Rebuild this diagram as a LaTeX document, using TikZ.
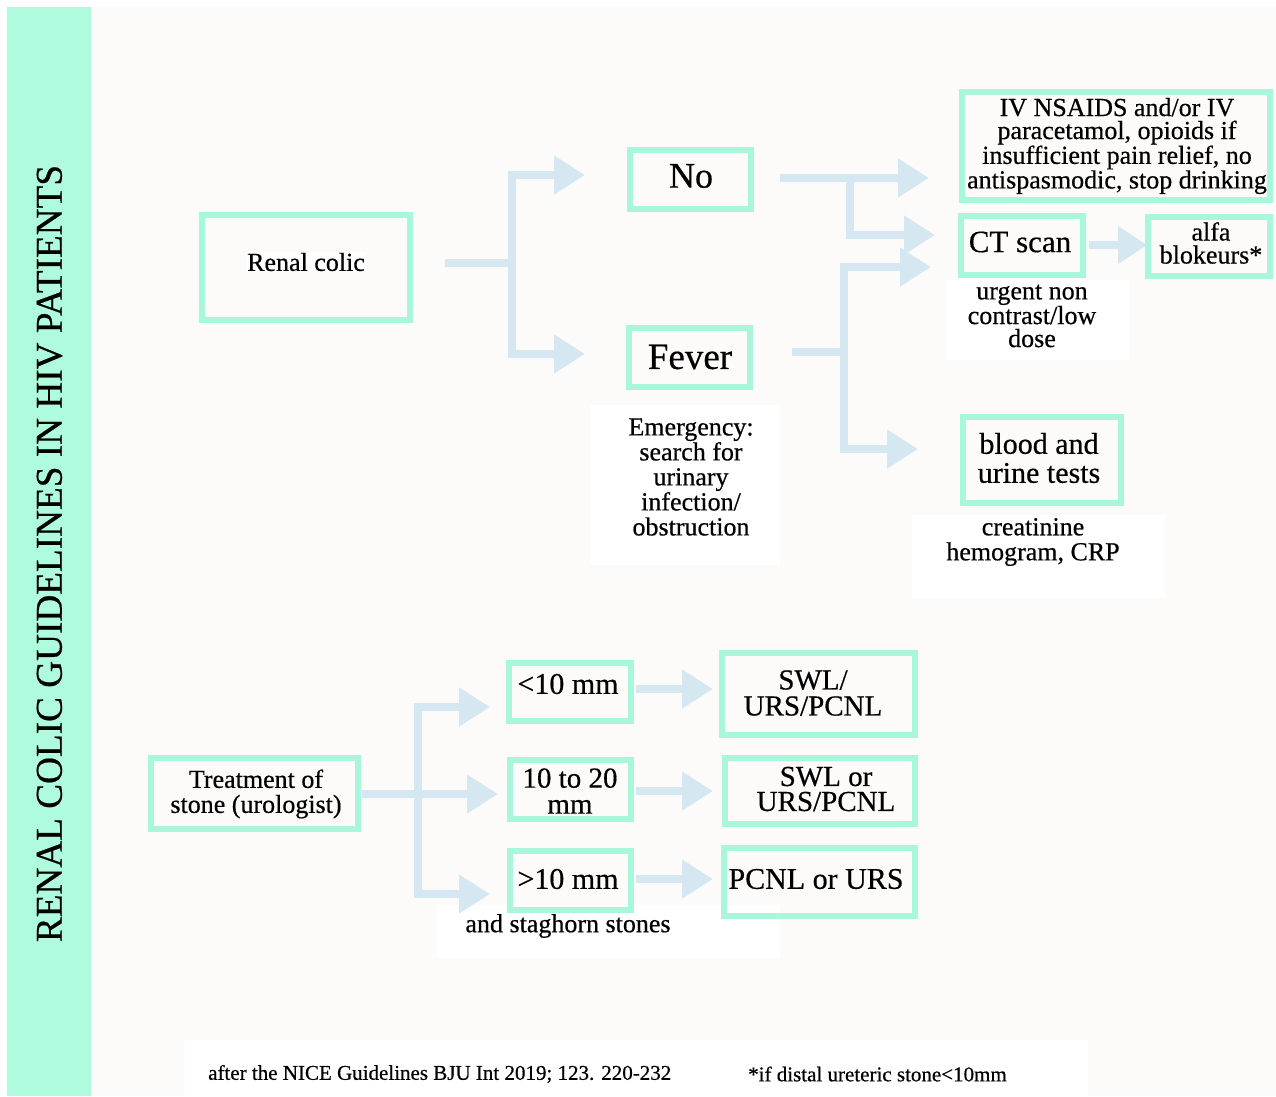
\documentclass[tikz,border=0pt]{standalone}
\usepackage{fontspec}
\usepackage{graphicx}
\setmainfont[FakeBold=0.5]{Liberation Serif}
\usetikzlibrary{arrows.meta,calc}
\definecolor{mint}{HTML}{A8F7DA}
\definecolor{barmint}{HTML}{AEFCDD}
\definecolor{arr}{HTML}{D5E8F1}
\definecolor{bgc}{HTML}{FCFBF9}
\tikzset{
  box/.style={draw=mint, line width=6pt, inner sep=0pt},
  lbl/.style={align=center, inner sep=1pt, font=\fontsize{26}{23}\selectfont},
  flow/.style={draw=arr, line width=8pt},
  flowhead/.style={draw=arr, line width=8pt, -{Triangle[length=31pt,width=37pt]}},
  whitebg/.style={fill=white, draw=none},
}
\begin{document}
\begin{tikzpicture}[x=1pt,y=-1pt]
\useasboundingbox (0,0) rectangle (1276,1096);
\fill[white] (0,0) rectangle (1276,1096);
\fill[bgc] (7,7) rectangle (1276,1096);
\fill[barmint] (7,7) rectangle (91,1096);
\node[rotate=90, inner sep=0pt] (title) at (49.5,553.5) {\resizebox{777pt}{25pt}{RENAL COLIC GUIDELINES IN HIV PATIENTS}};

% white text backgrounds
\fill[whitebg] (590,405) rectangle (780,565);
\fill[whitebg] (946,280) rectangle (1130,360);
\fill[whitebg] (912,515) rectangle (1165,598);
\fill[whitebg] (437,905) rectangle (780,958);
\fill[whitebg] (185,1040) rectangle (1088,1096);

% boxes
\node[box, minimum width=208pt, minimum height=105pt] (renal) at (305.5,267) {};
\node[box, minimum width=121pt, minimum height=59pt] (no) at (690,179) {};
\node[box, minimum width=121pt, minimum height=59pt] (fever) at (689,357) {};
\node[box, minimum width=308pt, minimum height=108pt] (ivn) at (1115.5,145.5) {};
\node[box, minimum width=122pt, minimum height=59pt] (ct) at (1021.5,245) {};
\node[box, minimum width=122pt, minimum height=59pt] (alfa) at (1208.5,246) {};
\node[box, minimum width=158pt, minimum height=86pt] (blood) at (1041.5,459.5) {};
\node[box, minimum width=207pt, minimum height=71pt] (treat) at (254,793) {};
\node[box, minimum width=122pt, minimum height=58pt] (lt10) at (569.5,691.5) {};
\node[box, minimum width=121pt, minimum height=59pt] (mid) at (570,789) {};
\node[box, minimum width=121pt, minimum height=59pt] (gt10) at (570,880) {};
\node[box, minimum width=193pt, minimum height=82pt] (swla) at (818,693.5) {};
\node[box, minimum width=190pt, minimum height=66pt] (swlb) at (819.5,790.5) {};
\node[box, minimum width=191pt, minimum height=68pt] (pcnl) at (819,881.5) {};

% texts
\node[lbl, fill=white] (renalT) at (306,262) {Renal colic};
\node[lbl, font=\fontsize{36}{36}\selectfont] (noT) at (691,176) {No};
\node[lbl, font=\fontsize{37}{37}\selectfont] (feverT) at (690,357) {Fever};
\node[lbl, font=\fontsize{26}{25}\selectfont] (emergT) at (691,477) {Emergency:\\search for\\urinary\\infection/\\obstruction};
\node[lbl] (ivnT) at (1117,146) {IV NSAIDS and/or IV\\paracetamol, opioids if\\insufficient pain relief, no\\antispasmodic, stop drinking};
\node[lbl, font=\fontsize{31}{31}\selectfont] (ctT) at (1020,242) {CT scan};
\node[lbl] (alfaT) at (1211,243) {alfa\\blokeurs*};
\node[lbl] (urgT) at (1032,316) {urgent non\\contrast/low\\dose};
\node[lbl, font=\fontsize{30}{29}\selectfont] (bloodT) at (1039,458) {blood and\\urine tests};
\node[lbl, font=\fontsize{26}{25}\selectfont] (creatT) at (1033,542) {creatinine\\hemogram, CRP};
\node[lbl, font=\fontsize{26}{25}\selectfont] (treatT) at (256,794) {Treatment of\\stone (urologist)};
\node[lbl, font=\fontsize{30}{30}\selectfont] (lt10T) at (568,684) {<10 mm};
\node[lbl, font=\fontsize{29}{26}\selectfont] (midT) at (570,791) {10 to 20\\mm};
\node[lbl, font=\fontsize{30}{30}\selectfont] (gt10T) at (568,879) {>10 mm};
\node[lbl] (stagT) at (568,926) {and staghorn stones};
\node[lbl, font=\fontsize{29}{26}\selectfont] (swlaT) at (813,693) {SWL/\\URS/PCNL};
\node[lbl, font=\fontsize{29}{25}\selectfont] (swlbT) at (826,789) {SWL or\\URS/PCNL};
\node[lbl, font=\fontsize{30}{30}\selectfont] (pcnlT) at (816,879) {PCNL or URS};
\node[lbl, anchor=west, font=\fontsize{21}{21}\selectfont] (foot1) at (207,1074) {after the NICE Guidelines BJU Int 2019; 123. 220-232};
\node[lbl, anchor=west, font=\fontsize{21}{21}\selectfont] (foot2) at (747,1074) {*if distal ureteric stone<10mm};

% connector points
\coordinate (r0) at (445,263);
\coordinate (r1) at (512,263);
\coordinate (toNo) at (585,175);
\coordinate (toFever) at (585,354);
\coordinate (n0) at (780,178);
\coordinate (n1) at (850,178);
\coordinate (toIvn) at (929,178);
\coordinate (toCt1) at (935,235);
\coordinate (f0) at (792,352);
\coordinate (f1) at (844,352);
\coordinate (toCt2) at (931,267);
\coordinate (toBlood) at (918,449);
\coordinate (c0) at (1089,245);
\coordinate (toAlfa) at (1147,245);
\coordinate (t0) at (362,794);
\coordinate (t1) at (418,794);
\coordinate (toLt) at (490,707);
\coordinate (toMid) at (498,794);
\coordinate (toGt) at (490,894);
\coordinate (a0) at (636,689);
\coordinate (toA) at (713,689);
\coordinate (b0) at (636,791);
\coordinate (toB) at (713,791);
\coordinate (p0) at (636,879);
\coordinate (toP) at (713,879);

% connectors
\draw[flow] (r0) -- (r1);
\draw[flowhead] (r1) |- (toNo);
\draw[flowhead] (r1) |- (toFever);
\draw[flowhead] (n0) -- (toIvn);
\draw[flowhead] (n1) |- (toCt1);
\draw[flow] (f0) -- (f1);
\draw[flowhead] (f1) |- (toCt2);
\draw[flowhead] (f1) |- (toBlood);
\draw[flowhead, -{Triangle[length=29pt,width=36pt]}] (c0) -- (toAlfa);
\draw[flowhead] (t0) -- (toMid);
\draw[flowhead] (t1) |- (toLt);
\draw[flowhead] (t1) |- (toGt);
\draw[flowhead] (a0) -- (toA);
\draw[flowhead] (b0) -- (toB);
\draw[flowhead] (p0) -- (toP);
\end{tikzpicture}
\end{document}
